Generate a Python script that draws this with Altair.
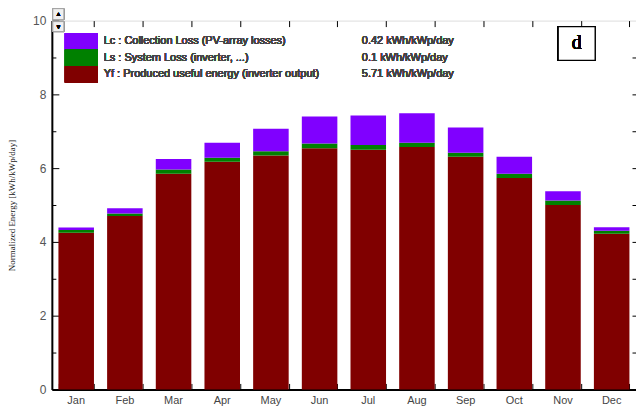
import altair as alt
import pandas as pd

months = ["Jan", "Feb", "Mar", "Apr", "May", "Jun", "Jul", "Aug", "Sep", "Oct", "Nov", "Dec"]
yf = [4.25, 4.70, 5.85, 6.17, 6.34, 6.54, 6.50, 6.57, 6.31, 5.73, 5.00, 4.22]
ls = [0.07, 0.07, 0.11, 0.11, 0.12, 0.13, 0.13, 0.12, 0.11, 0.12, 0.12, 0.08]
lc = [0.07, 0.14, 0.29, 0.41, 0.61, 0.73, 0.80, 0.80, 0.68, 0.46, 0.25, 0.10]

series = ["Yf", "Ls", "Lc"]
colors = ["#800000", "#008000", "#8000ff"]
legend_labels = [
    "Lc : Collection Loss (PV-array losses)",
    "Ls : System Loss  (inverter, ...)",
    "Yf : Produced useful energy  (inverter output)",
]
legend_values = ["0.42 kWh/kWp/day", "0.1 kWh/kWp/day", "5.71 kWh/kWp/day"]
legend_colors = ["#8000ff", "#008000", "#800000"]

W, H = 586, 370

rows = []
for i, m in enumerate(months):
    for k, (s, vals) in enumerate(zip(series, [yf, ls, lc])):
        rows.append({"month": m, "series": s, "value": vals[i], "order": k})
df = pd.DataFrame(rows)
dm = pd.DataFrame({"month": months, "v": yf})

xscale = alt.Scale(paddingInner=0.27, paddingOuter=0.135)
yscale = alt.Scale(domain=[0, 10], nice=False)

bars = alt.Chart(df).mark_bar(strokeWidth=0).encode(
    x=alt.X("month:N", sort=months, scale=xscale,
            axis=alt.Axis(title=None, labelAngle=0, ticks=False, domainColor="black",
                          domainWidth=2, labelFont="Liberation Sans", labelFontSize=11,
                          labelFontWeight="normal",
                          labelColor="#444444", labelPadding=5)),
    y=alt.Y("value:Q", stack="zero", scale=yscale,
            axis=alt.Axis(title="Normalized Energy [kWh/kWp/day]", values=[0, 2, 4, 6, 8, 10],
                          ticks=False, domainColor="black", domainWidth=2, grid=False,
                          labelFont="Liberation Sans", labelFontSize=12, labelColor="#555555",
                          labelPadding=6, titleFont="Liberation Serif", titleFontSize=9,
                          titleFontWeight="normal", titleColor="#222222", titlePadding=16)),
    color=alt.Color("series:N", scale=alt.Scale(domain=series, range=colors), legend=None),
    order=alt.Order("order:Q"),
)

inv = alt.Chart(dm).mark_bar(opacity=0)

l2 = inv.encode(
    x=alt.X("month:N", sort=months, scale=xscale,
            axis=alt.Axis(orient="top", offset=-H, labels=False, domain=False, tickBand="extent",
                          tickSize=6, tickColor="black", title=None)),
    y=alt.Y("v:Q", scale=yscale,
            axis=alt.Axis(orient="right", offset=-W, labels=False, domain=False, grid=False,
                          values=[0, 2, 4, 6, 8, 10], tickSize=7, tickColor="black", title=None)),
)
l3 = inv.encode(
    x=alt.X("month:N", sort=months, scale=xscale,
            axis=alt.Axis(orient="bottom", offset=-H, labels=False, domain=False, tickBand="extent",
                          tickSize=6, tickColor="black", title=None)),
    y=alt.Y("v:Q", scale=yscale,
            axis=alt.Axis(orient="right", offset=-W, labels=False, domain=False, grid=False,
                          values=[1, 3, 5, 7, 9], tickSize=4, tickColor="black", title=None)),
)
l4 = inv.encode(
    x=alt.X("month:N", sort=months, scale=xscale, axis=None),
    y=alt.Y("v:Q", scale=yscale,
            axis=alt.Axis(orient="left", offset=-W, labels=False, domain=False, grid=False,
                          values=[1, 2, 3, 4, 5, 6, 7, 8, 9], tickSize=4, tickColor="black",
                          title=None)),
)

ann = []
sq_top = 12.7
sq_h = 16.5
for i, (lab, val, col) in enumerate(zip(legend_labels, legend_values, legend_colors)):
    y0 = sq_top + i * sq_h
    ann.append(alt.Chart(dm).mark_rect(color=col).encode(
        x=alt.value(13), x2=alt.value(46), y=alt.value(y0), y2=alt.value(y0 + sq_h)))
    ann.append(alt.Chart(dm).mark_text(text=lab, align="left", baseline="middle",
                                       font="Liberation Sans", fontSize=11, fontWeight="normal",
                                       color="#444444").encode(
        x=alt.value(52), y=alt.value(y0 + sq_h / 2)))
    ann.append(alt.Chart(dm).mark_text(text=val, align="left", baseline="middle",
                                       font="Liberation Sans", fontSize=11, fontWeight="normal",
                                       color="#444444").encode(
        x=alt.value(311), y=alt.value(y0 + sq_h / 2)))

ann.append(alt.Chart(dm).mark_rect(fill="white", stroke="black", strokeWidth=1.2).encode(
    x=alt.value(508), x2=alt.value(545), y=alt.value(6), y2=alt.value(40)))
ann.append(alt.Chart(dm).mark_text(text="d", font="Liberation Serif", fontSize=20,
                                   fontWeight="normal",
                                   align="center", baseline="middle", color="black").encode(
    x=alt.value(526.5), y=alt.value(22)))

# small scroll buttons at the top-left corner
ann.append(alt.Chart(dm).mark_rect(fill="#f0f0f0", stroke="#999999", strokeWidth=0.8).encode(
    x=alt.value(1), x2=alt.value(12), y=alt.value(-12), y2=alt.value(-1)))
ann.append(alt.Chart(dm).mark_rect(fill="#f0f0f0", stroke="#999999", strokeWidth=0.8).encode(
    x=alt.value(1), x2=alt.value(12), y=alt.value(1), y2=alt.value(11)))
ann.append(alt.Chart(dm).mark_text(text="▲", fontSize=6, color="black").encode(
    x=alt.value(6.5), y=alt.value(-6.5)))
ann.append(alt.Chart(dm).mark_text(text="▼", fontSize=6, color="black").encode(
    x=alt.value(6.5), y=alt.value(6)))

chart = alt.layer(bars, l2, l3, l4, *ann).resolve_axis(x="independent", y="independent").properties(
    width=W, height=H,
    autosize=alt.AutoSizeParams(type="none"),
    padding={"left": 44, "top": 12, "right": 0, "bottom": 20},
).configure_view(stroke="black", strokeWidth=1.5).configure(background="white")

chart.save("out.html", embed_options={"renderer": "svg", "actions": False})
